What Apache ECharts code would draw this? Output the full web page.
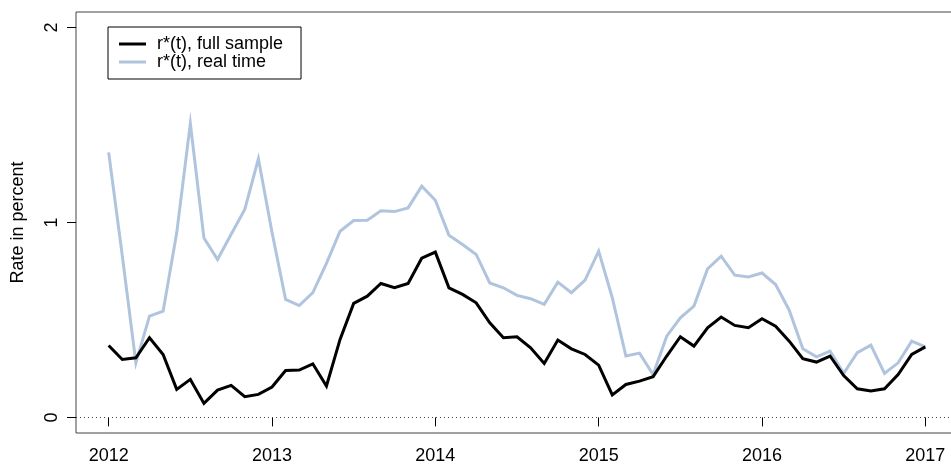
<!DOCTYPE html>
<html>
<head>
<meta charset="utf-8">
<script src="https://cdn.jsdelivr.net/npm/echarts@6/dist/echarts.min.js"></script>
<style>
html,body{margin:0;padding:0;background:#fff;}
#chart{width:951px;height:465px;}
</style>
</head>
<body>
<div id="chart"></div>
<script>
// Monthly observations, Jan 2012 .. Jan 2017
const startYear = 2012;
const nMonths = 61;
const xTicks = [2012, 2013, 2014, 2015, 2016, 2017];
const yTicks = [0, 1, 2];

const fullSample = [
  0.369, 0.297, 0.306, 0.409, 0.323, 0.144, 0.195, 0.072, 0.140, 0.164, 0.106, 0.118,
  0.156, 0.241, 0.243, 0.275, 0.161, 0.400, 0.585, 0.622, 0.687, 0.665, 0.687, 0.817,
  0.848, 0.665, 0.631, 0.588, 0.485, 0.409, 0.414, 0.357, 0.277, 0.397, 0.352, 0.323,
  0.268, 0.115, 0.169, 0.186, 0.209, 0.315, 0.414, 0.366, 0.460, 0.515, 0.472, 0.460,
  0.506, 0.468, 0.391, 0.301, 0.284, 0.315, 0.215, 0.147, 0.135, 0.147, 0.220, 0.323,
  0.362
];
const realTime = [
  1.360, 0.830, 0.280, 0.520, 0.545, 0.947, 1.508, 0.920, 0.810, 0.940, 1.067, 1.327,
  0.950, 0.605, 0.574, 0.640, 0.790, 0.955, 1.010, 1.012, 1.060, 1.056, 1.075, 1.186,
  1.114, 0.935, 0.887, 0.836, 0.690, 0.665, 0.626, 0.609, 0.580, 0.694, 0.640, 0.704,
  0.853, 0.614, 0.315, 0.330, 0.220, 0.417, 0.511, 0.571, 0.762, 0.827, 0.730, 0.721,
  0.741, 0.682, 0.550, 0.352, 0.311, 0.340, 0.226, 0.332, 0.371, 0.226, 0.280, 0.391,
  0.362
];

const timeIdx = [];
for (let i = 0; i < nMonths; i++) timeIdx.push(startYear + i / 12);

const pairs = (vals) => vals.map((v, i) => [timeIdx[i], v]);

const chart = echarts.init(document.getElementById('chart'), null, {renderer: 'canvas'});
const font = 'Liberation Sans, Arial, Helvetica, sans-serif';

chart.setOption({
  animation: false,
  backgroundColor: '#ffffff',
  grid: {
    left: 76, top: 12, right: -7, bottom: 32,
    containLabel: false,
    outerBoundsMode: 'none',
    show: true, borderColor: '#444', borderWidth: 1, backgroundColor: 'transparent'
  },
  legend: {
    left: 108, top: 27,
    orient: 'vertical',
    itemGap: 0,
    itemWidth: 27,
    itemHeight: 3,
    icon: 'rect',
    padding: [8, 18, 8, 11],
    borderColor: '#000', borderWidth: 1, borderRadius: 0,
    backgroundColor: '#fff',
    textStyle: {fontFamily: font, fontSize: 18, color: '#000', lineHeight: 16, padding: [0,0,0,6]},
    data: ['r*(t), full sample', 'r*(t), real time']
  },
  xAxis: {
    type: 'value',
    min: 2011.8, max: 2017.2,
    axisLine: {show: false},
    splitLine: {show: false},
    axisTick: {show: true, length: 9, inside: false, customValues: xTicks,
               lineStyle: {color: '#000', width: 1}},
    axisLabel: {show: true, customValues: xTicks, margin: 14,
                fontFamily: font, fontSize: 18, color: '#000',
                formatter: (v) => String(Math.round(v))}
  },
  yAxis: {
    type: 'value',
    min: -0.08, max: 2.08,
    name: 'Rate in percent',
    nameLocation: 'middle',
    nameGap: 49,
    nameRotate: 90,
    nameTextStyle: {fontFamily: font, fontSize: 18, color: '#000'},
    axisLine: {show: false},
    splitLine: {show: false},
    axisTick: {show: true, length: 9, inside: false, customValues: yTicks,
               lineStyle: {color: '#000', width: 1}},
    axisLabel: {show: true, customValues: yTicks, rotate: 90, margin: 15,
                fontFamily: font, fontSize: 18, color: '#000',
                formatter: (v) => String(Math.round(v))}
  },
  series: [
    {
      name: 'r*(t), real time',
      type: 'line',
      data: pairs(realTime),
      showSymbol: false,
      symbol: 'none',
      z: 2,
      lineStyle: {color: '#B0C4DE', width: 3, join: 'miter'},
      itemStyle: {color: '#B0C4DE'},
      markLine: {
        silent: true,
        symbol: 'none',
        label: {show: false},
        lineStyle: {color: '#444', type: [1, 3], width: 1},
        data: [{yAxis: 0}]
      }
    },
    {
      name: 'r*(t), full sample',
      type: 'line',
      data: pairs(fullSample),
      showSymbol: false,
      symbol: 'none',
      z: 3,
      lineStyle: {color: '#000000', width: 3, join: 'miter'},
      itemStyle: {color: '#000000'}
    }
  ]
});
</script>
</body>
</html>
